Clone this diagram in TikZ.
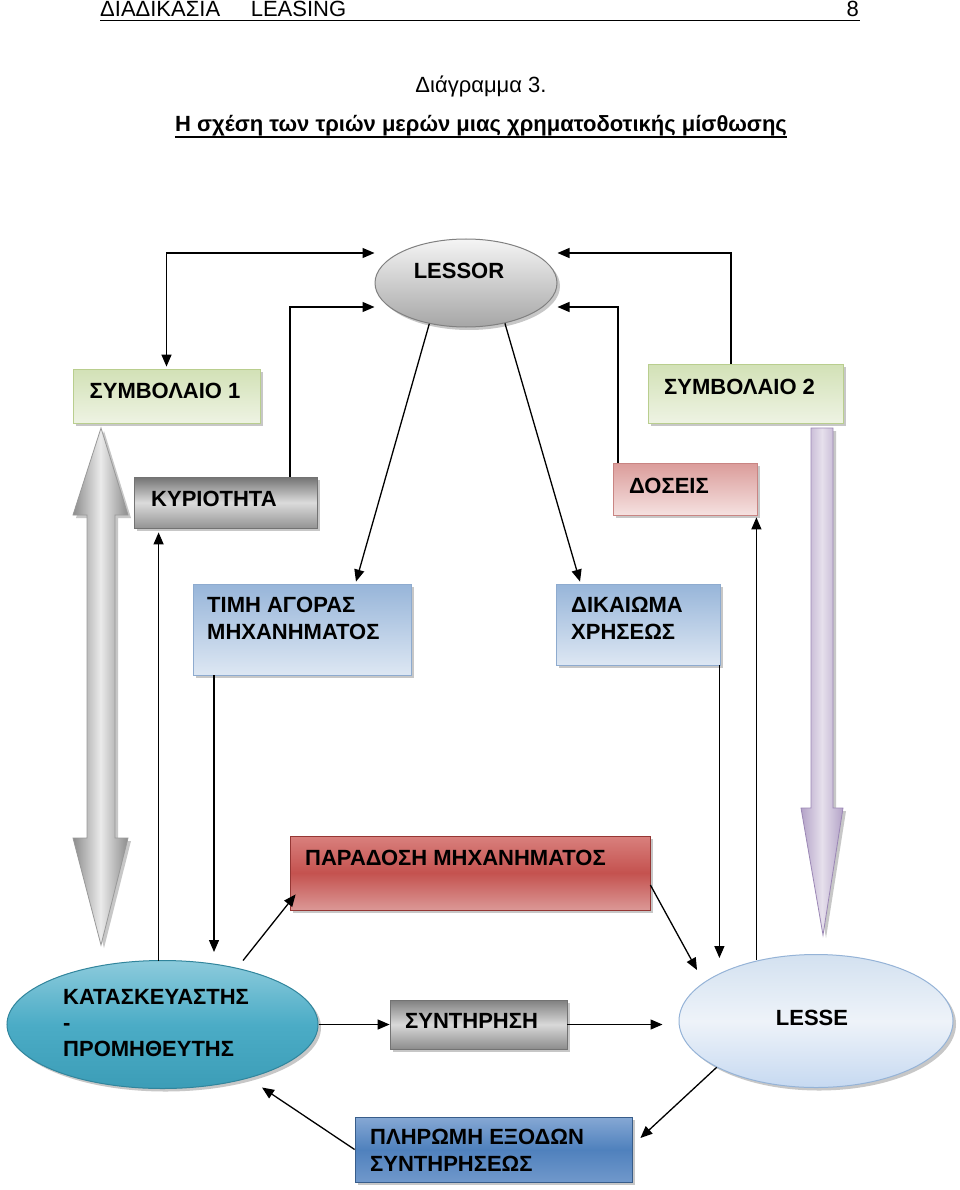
\documentclass[tikz,border=0pt]{standalone}
\usepackage{fontspec}
\setmainfont{Liberation Sans}
\usetikzlibrary{arrows.meta,shadows,calc,shapes.geometric}
\definecolor{grnA}{HTML}{D2E1B6}
\definecolor{grnB}{HTML}{EEF3E3}
\definecolor{grnD}{HTML}{B9CE8E}
\definecolor{pnkA}{HTML}{DB9C9A}
\definecolor{pnkB}{HTML}{F5E1E0}
\definecolor{pnkD}{HTML}{C98583}
\definecolor{bluA}{HTML}{97B5D9}
\definecolor{bluB}{HTML}{DDE7F3}
\definecolor{bluD}{HTML}{8EABCF}
\definecolor{redA}{HTML}{D9807D}
\definecolor{redM}{HTML}{C4524F}
\definecolor{redB}{HTML}{DB9896}
\definecolor{redD}{HTML}{953734}
\definecolor{dblA}{HTML}{86A8D4}
\definecolor{dblM}{HTML}{4F81BD}
\definecolor{dblB}{HTML}{7098CB}
\definecolor{dblD}{HTML}{385D8A}
\definecolor{tealA}{HTML}{8DCBDC}
\definecolor{tealM}{HTML}{4BACC6}
\definecolor{tealB}{HTML}{3C9DB7}
\definecolor{tealD}{HTML}{31859C}
\definecolor{lbA}{HTML}{D3E1F0}
\definecolor{lbM}{HTML}{EEF3F9}
\definecolor{lbB}{HTML}{C6D9F1}
\definecolor{lbD}{HTML}{95B3D7}
\definecolor{purA}{HTML}{B3A2C7}
\definecolor{purM}{HTML}{E6E0EC}
\definecolor{purD}{HTML}{9B87B5}
\begin{document}
\begin{tikzpicture}[x=1pt,y=-1pt,
  arr/.style={line width=1.3pt,-{Triangle[length=12pt,width=10pt]}},
  darr/.style={line width=1.3pt,{Triangle[length=12pt,width=10pt]}-{Triangle[length=12pt,width=10pt]}},
  shd/.style={drop shadow={shadow xshift=3pt,shadow yshift=-3pt,fill=black!40,opacity=0.55}},
  rbox/.style={rectangle,inner sep=0pt,line width=0.8pt,shd},
  ebox/.style={ellipse,inner sep=0pt,line width=1pt,shd},
  lbl/.style={font=\fontsize{22}{27}\selectfont\bfseries,anchor=west,align=left,inner sep=0pt},
  hdr/.style={font=\fontsize{22}{27}\selectfont,inner sep=0pt}
]
\useasboundingbox (0,0) rectangle (960,1190);
\fill[white] (0,0) rectangle (960,1190);

% header
\node[hdr,anchor=base west] (head) at (100,17) {ΔΙΑΔΙΚΑΣΙΑ\ \ \ \ \ LEASING};
\node[hdr,anchor=base east] (page) at (859,17) {8};
\draw[line width=1.3pt] (100,20.5) -- (860,20.5);
\node[hdr,anchor=base] (dg) at (481,93) {Διάγραμμα 3.};
\node[hdr,font=\fontsize{22}{27}\selectfont\bfseries,anchor=base] (title) at (481,132) {Η σχέση των τριών μερών μιας χρηματοδοτικής μίσθωσης};
\draw[line width=1.4pt] ([yshift=-5pt]title.base west) -- ([yshift=-5pt]title.base east);

% big arrows
\draw[shd,draw=black!40,line width=0.8pt,left color=black!45,right color=black!45,middle color=black!8]
  (101,428) -- (128,515) -- (115,515) -- (115,838) -- (128,838) -- (101,945)
  -- (73,838) -- (87,838) -- (87,515) -- (73,515) -- cycle;
\draw[shd,draw=purD,line width=0.8pt,left color=purA,right color=purA,middle color=purM]
  (811,428) -- (833,428) -- (833,808) -- (843,808) -- (823,935) -- (801,808) -- (811,808) -- cycle;

% nodes
\node[ebox,draw=black!50,top color=black!4,bottom color=black!35,minimum width=182pt,minimum height=88pt] (lessor) at (466,283) {};
\node[lbl,anchor=center] (lessort) at (459,271) {LESSOR};

\node[rbox,draw=grnD,top color=grnA,bottom color=grnB,minimum width=187pt,minimum height=54pt] (s1) at (166.5,396) {};
\node[lbl,anchor=center] (s1t) at (165,391) {ΣΥΜΒΟΛΑΙΟ 1};

\node[rbox,draw=grnD,top color=grnA,bottom color=grnB,minimum width=195pt,minimum height=59pt] (s2) at (745.5,393.5) {};
\node[lbl] (s2t) at (664,387) {ΣΥΜΒΟΛΑΙΟ 2};

\node[rbox,draw=pnkD,top color=pnkA,bottom color=pnkB,minimum width=144pt,minimum height=52pt] (dos) at (685,489) {};
\node[lbl] (dost) at (629,486) {ΔΟΣΕΙΣ};

\node[rbox,draw=black!55,top color=black!55,bottom color=black!42,middle color=black!14,minimum width=183pt,minimum height=51pt] (kyr) at (225.5,502.5) {};
\node[lbl] (kyrt) at (151,499) {ΚΥΡΙΟΤΗΤΑ};

\node[rbox,draw=bluD,top color=bluA,bottom color=bluB,minimum width=218pt,minimum height=91pt] (tim) at (302,629.5) {};
\node[lbl] (timt) at (207,618.5) {ΤΙΜΗ ΑΓΟΡΑΣ\\ΜΗΧΑΝΗΜΑΤΟΣ};

\node[rbox,draw=bluD,top color=bluA,bottom color=bluB,minimum width=164pt,minimum height=81pt] (dik) at (638,624.5) {};
\node[lbl] (dikt) at (571,618.5) {ΔΙΚΑΙΩΜΑ\\ΧΡΗΣΕΩΣ};

\node[rbox,draw=redD,top color=redA,bottom color=redB,middle color=redM,minimum width=360pt,minimum height=74pt] (par) at (470,873) {};
\node[lbl] (part) at (305,858) {ΠΑΡΑΔΟΣΗ ΜΗΧΑΝΗΜΑΤΟΣ};

\node[ebox,draw=tealD,top color=tealA,bottom color=tealB,middle color=tealM,minimum width=311pt,minimum height=128pt] (kat) at (162.5,1024.5) {};
\node[lbl,align=left] (katt) at (63,1023.5) {ΚΑΤΑΣΚΕΥΑΣΤΗΣ\\[-1pt]-\\[-1pt]ΠΡΟΜΗΘΕΥΤΗΣ};

\node[rbox,draw=black!55,top color=black!50,bottom color=black!45,middle color=black!15,minimum width=177pt,minimum height=49pt] (syn) at (478.5,1024.5) {};
\node[lbl] (synt) at (405,1021) {ΣΥΝΤΗΡΗΣΗ};

\node[ebox,draw=lbD,top color=lbA,bottom color=lbB,middle color=lbM,minimum width=274pt,minimum height=133pt] (lesse) at (816,1021) {};
\node[lbl,anchor=center] (lesset) at (812,1018) {LESSE};

\node[rbox,draw=dblD,top color=dblA,bottom color=dblB,middle color=dblM,minimum width=277pt,minimum height=65pt] (plh) at (493.5,1149.5) {};
\node[lbl] (plht) at (370,1150) {ΠΛΗΡΩΜΗ ΕΞΟΔΩΝ\\ΣΥΝΤΗΡΗΣΕΩΣ};

% connectors to LESSOR
\coordinate (Lw1) at ([yshift=30pt]lessor.west);
\coordinate (Lw2) at ([yshift=-24pt]lessor.west);
\coordinate (Le1) at ([yshift=30pt]lessor.east);
\coordinate (Le2) at ([yshift=-24pt]lessor.east);
\coordinate (kyrN) at ([xshift=64.5pt]kyr.north);
\coordinate (s2N) at ([xshift=-14.5pt]s2.north);
\coordinate (dosN) at ([xshift=-67pt]dos.north);
\draw[darr] ([yshift=2pt]s1.north) |- (Lw1);
\draw[arr] (kyrN) |- (Lw2);
\draw[arr] (s2N) |- (Le1);
\draw[arr] (dosN) |- (Le2);

\draw[arr] (lessor.228) -- ([xshift=54pt,yshift=2pt]tim.north);
\draw[arr] (lessor.314) -- ([xshift=-58pt,yshift=2pt]dik.north);

% vertical connectors
\coordinate (timS) at ([xshift=-88pt]tim.south);
\coordinate (katTip) at ([yshift=8pt]kat.north);
\draw[arr] (timS) -- (timS |- katTip);

\coordinate (kyrS) at ([xshift=25pt,yshift=-4pt]kyr.south west);
\coordinate (katTop) at ([yshift=-1pt]kat.north);
\draw[arr] (kyrS |- katTop) -- (kyrS);

\coordinate (dikSE) at ([xshift=-1pt]dik.south east);
\coordinate (lesTip) at ([yshift=-4pt]lesse.north);
\draw[arr] (dikSE) -- (dikSE |- lesTip);

\coordinate (dosSE) at ([xshift=-1pt,yshift=-2pt]dos.south east);
\coordinate (lesTop) at ([yshift=-6pt]lesse.north);
\draw[arr] (dosSE |- lesTop) -- (dosSE);

% lower connectors
\draw[arr] ([xshift=-1pt,yshift=9pt]kat.34) -- ([xshift=6pt,yshift=16pt]par.south west);
\draw[arr] ([yshift=-12pt]par.east) -- ([xshift=-119pt,yshift=51pt]lesse.center);
\draw[arr] (kat.east) -- (syn.west);
\coordinate (lesW) at ([xshift=-16pt]lesse.west);
\draw[arr] (syn.east) -- (syn.east -| lesW);
\draw[arr] (lesse.205.6) -- ([xshift=8pt,yshift=11.5pt]plh.east);
\draw[arr] (plh.west) -- ([xshift=99.5pt,yshift=-63pt]kat.center);
\end{tikzpicture}
\end{document}
